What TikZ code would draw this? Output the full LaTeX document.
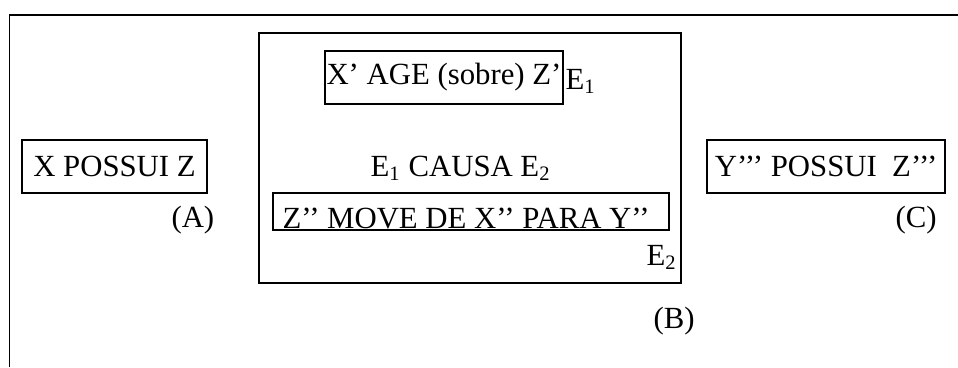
\documentclass[tikz,border=0pt]{standalone}
\usepackage{fontspec}
\setmainfont{Liberation Serif}
\usepackage{tikz}
\usetikzlibrary{positioning}

\tikzset{
  box/.style={draw, line width=0.7pt, inner sep=0pt},
  lbl/.style={inner sep=0pt, anchor=base west},
}

\begin{document}
\begin{tikzpicture}[x=0.39pt, y=-0.39pt, font=\fontsize{12}{14}\selectfont]
\useasboundingbox (0,0) rectangle (958,367);
% outer frame (cut at right and bottom)
\coordinate (frameBot) at (9.5,367);
\coordinate (frameRight) at (958,15);
\draw[line width=0.7pt] (frameBot) |- (frameRight);

% (A)
\node[box, minimum width=72.2pt, minimum height=20.7pt] (possA) at (114.5,166.5) {X POSSUI Z};
\node[lbl] (tagA) at (171,227) {(A)};

% (B)
\node[box, minimum width=164.6pt, minimum height=97.5pt] (boxB) at (470,158) {};
\node[box, minimum width=92.8pt, minimum height=20.7pt] (ageB) at (444,77.5) {X’ AGE (sobre) Z’};
\node[lbl] (eOne) at (565,89) {E\textsubscript{1}};
\node[lbl] (causa) at (370,176) {E\textsubscript{1} CAUSA E\textsubscript{2}};
\node[box, minimum width=154.4pt, minimum height=14.4pt] (moveB) at (471,211.5) {};
\node[lbl] (moveTxt) at (282,228) {Z’’ MOVE DE X’’ PARA Y’’};
\node[lbl] (eTwo) at (646,265) {E\textsubscript{2}};
\node[lbl] (tagB) at (653,328) {(B)};

% (C)
\node[box, minimum width=92.8pt, minimum height=20.7pt] (possC) at (826,166.5) {Y’’’ POSSUI\ \ Z’’’};
\node[lbl] (tagC) at (895,227) {(C)};
\end{tikzpicture}
\end{document}
